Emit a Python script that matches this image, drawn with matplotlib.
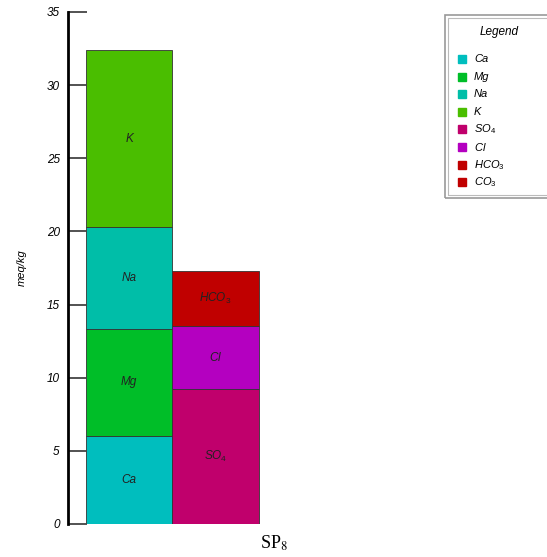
import matplotlib
matplotlib.use("Agg")
from matplotlib import pyplot as plt
from matplotlib.patches import Rectangle

plt.rcParams["font.family"] = ["Liberation Sans", "DejaVu Sans"]
plt.rcParams["mathtext.fontset"] = "custom"
plt.rcParams["mathtext.rm"] = "Liberation Sans"
plt.rcParams["mathtext.it"] = "Liberation Sans:italic"

# cations (left column) and anions (right column), meq/kg, bottom to top
cations = ["Ca", "Mg", "Na", "K"]
cation_vals = [6.0, 7.35, 6.95, 12.1]
anions = ["$SO_4$", "$Cl$", "$HCO_3$"]
anion_vals = [9.2, 4.35, 3.75]

colors = {"Ca": "#00BEBE", "Mg": "#00BE28", "Na": "#00BEA8", "K": "#4ABE00",
          "$SO_4$": "#C0006C", "$Cl$": "#B400C0", "$HCO_3$": "#C00000",
          "$CO_3$": "#C00000"}
legend_labels = ["Ca", "Mg", "Na", "K", "$SO_4$", "$Cl$", "$HCO_3$", "$CO_3$"]
yticks = [0, 5, 10, 15, 20, 25, 30, 35]

fig = plt.figure(figsize=(5.47, 5.57), dpi=100)
ax = fig.add_axes([68 / 547, 33 / 557, 260 / 547, 512 / 557])

for col, (names, vals) in enumerate([(cations, cation_vals), (anions, anion_vals)]):
    bottom = 0
    for name, v in zip(names, vals):
        ax.bar(col, v, width=1.0, bottom=bottom, align="edge",
               color=colors[name], edgecolor="#333333", linewidth=0.6)
        ax.text(col + 0.5, bottom + v / 2, name, ha="center", va="center",
                fontsize=8.5, style="italic", color="#222222")
        bottom += v

ax.set_xlim(-0.208, 2.8)
ax.set_ylim(0, 35)
ax.set_yticks(yticks)
ax.set_yticklabels([str(t) for t in yticks], fontsize=8.5, style="italic")
ax.tick_params(axis="y", direction="in", length=14, width=1.3, color="#444444", pad=6)
ax.set_xticks([])
for s in ["top", "right", "bottom"]:
    ax.spines[s].set_visible(False)
ax.spines["left"].set_linewidth(2)
ax.spines["left"].set_color("black")
ax.set_ylabel("meq/kg", fontsize=8, style="italic", labelpad=14)

# legend box
fig.patches.append(Rectangle((445 / 547, (557 - 198) / 557), 110 / 547, 183 / 557,
                             transform=fig.transFigure, fill=False,
                             edgecolor="#999999", linewidth=1.2))
fig.patches.append(Rectangle((448 / 547, (557 - 195) / 557), 110 / 547, 177 / 557,
                             transform=fig.transFigure, fill=False,
                             edgecolor="#bbbbbb", linewidth=0.8))
fig.text(499 / 547, 1 - 32 / 557, "Legend", ha="center", va="center",
         fontsize=8.5, style="italic")
for i, lab in enumerate(legend_labels):
    y = 59 + i * 17.6
    fig.patches.append(Rectangle((458 / 547, 1 - (y + 4) / 557), 8 / 547, 8 / 557,
                                 transform=fig.transFigure, color=colors[lab]))
    fig.text(474 / 547, 1 - y / 557, lab, ha="left", va="center",
             fontsize=8, style="italic")

fig.text(274 / 547, 1 - 543 / 557, "SP$_8$", ha="center", va="center",
         fontsize=13, family="Liberation Serif", math_fontfamily="stix")

plt.savefig("out.png", dpi=100)
